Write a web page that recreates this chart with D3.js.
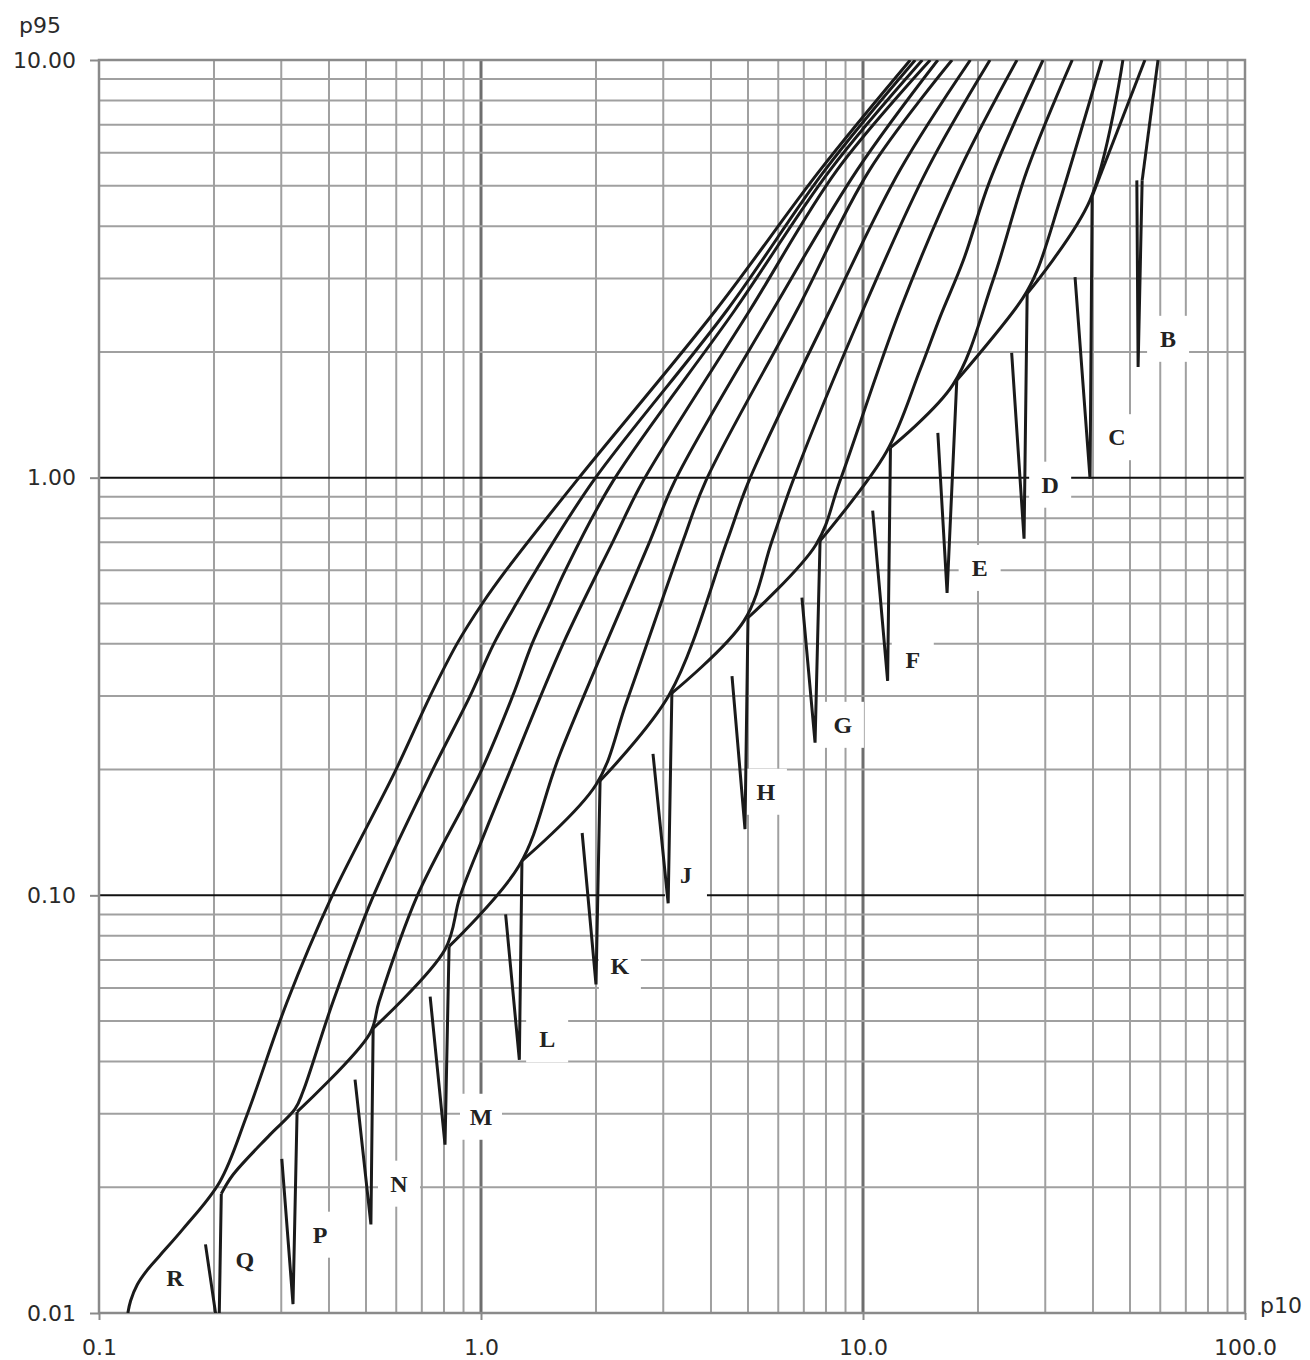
<!DOCTYPE html>
<html>
<head>
<meta charset="utf-8">
<script src="https://cdn.jsdelivr.net/npm/d3@7"></script>
<style>
body { margin: 0; background: #fff; }
</style>
</head>
<body>
<div id="chart"></div>
<script>
// curve letters and where each letter sits (p10, p95)
const letters = ["B", "C", "D", "E", "F", "G", "H", "J", "K", "L", "M", "N", "P", "Q", "R"]
const labelPos = [[62.9, 2.15], [46.2, 1.25], [30.9, 0.962], [20.2, 0.608], [13.5, 0.366], [8.86, 0.256], [5.57, 0.177],
  [3.44, 0.112], [2.31, 0.0676], [1.49, 0.0452], [1.00, 0.0295], [0.610, 0.0204], [0.379, 0.0154], [0.241, 0.0134], [0.158, 0.0121]]

// vee = top of the slanted arm, tip, top of the riser; path = from the riser top up to p95 = 10
const veeB = [[52.1, 5.15], [52.5, 1.84], [53.8, 5.15]]
const pathB = [[53.8, 5.15], [59.2, 10]]

const veeC = [[35.9, 3.02], [39.3, 0.994], [39.8, 4.72]]
const pathC = [[39.8, 4.72], [54.7, 10]]

const veeD = [[24.5, 1.99], [26.4, 0.714], [26.9, 2.76]]
const pathD = [[26.9, 2.76], [39.3, 4.62], [47.9, 10]]

const veeE = [[15.7, 1.28], [16.6, 0.530], [17.6, 1.71]]
const pathE = [[17.6, 1.71], [26.2, 2.69], [28.6, 3.14], [32.8, 4.62], [42.2, 10]]

const veeF = [[10.6, 0.834], [11.6, 0.326], [11.8, 1.18]]
const pathF = [[11.8, 1.18], [17.2, 1.67], [21.9, 2.97], [26.9, 5.45], [35.3, 10]]

const veeG = [[6.92, 0.516], [7.49, 0.232], [7.72, 0.706]]
const pathG = [[7.72, 0.706], [11.5, 1.15], [14.1, 1.81], [15.9, 2.42], [18.3, 3.31], [21.5, 5.15], [29.6, 10]]

const veeH = [[4.54, 0.335], [4.91, 0.144], [5.00, 0.462]]
const pathH = [[5.00, 0.462], [7.53, 0.691], [8.71, 0.984], [12.5, 2.52], [17.9, 5.45], [25.3, 10]]

const veeJ = [[2.82, 0.218], [3.09, 0.0957], [3.16, 0.305]]
const pathJ = [[3.16, 0.305], [4.88, 0.454], [5.78, 0.706], [6.56, 0.984], [10.0, 2.52], [14.7, 5.45], [21.5, 10]]

const veeK = [[1.84, 0.141], [2.00, 0.0612], [2.05, 0.188]]
const pathK = [[2.05, 0.188], [3.11, 0.302], [4.41, 0.706], [5.03, 0.984], [8.20, 2.52], [12.5, 5.45], [19.1, 10]]

const veeL = [[1.16, 0.0900], [1.26, 0.0404], [1.28, 0.121]]
const pathL = [[1.28, 0.121], [2.00, 0.184], [2.41, 0.292], [3.38, 0.706], [3.88, 0.984], [6.72, 2.52], [10.4, 5.45], [17.1, 10]]

const veeM = [[0.736, 0.0572], [0.805, 0.0253], [0.825, 0.0755]]
const pathM = [[0.825, 0.0755], [1.26, 0.118], [1.61, 0.218], [2.77, 0.706], [3.22, 0.984], [5.81, 2.52], [9.65, 5.45], [15.7, 10]]

const veeN = [[0.468, 0.0362], [0.515, 0.0163], [0.522, 0.0480]]
const pathN = [[0.522, 0.0480], [0.805, 0.0742], [0.881, 0.0994], [1.01, 0.137], [1.19, 0.198], [1.64, 0.400], [2.22, 0.706],
  [2.66, 0.984], [5.06, 2.52], [8.55, 5.45], [15.0, 10]]

const veeP = [[0.301, 0.0234], [0.322, 0.0105], [0.330, 0.0303]]
const pathP = [[0.330, 0.0303], [0.512, 0.0467], [0.541, 0.0557], [0.680, 0.0994], [1.00, 0.198], [1.21, 0.300], [1.36, 0.400],
  [1.52, 0.501], [1.66, 0.598], [2.22, 0.984], [4.62, 2.52], [8.20, 5.45], [14.3, 10]]

const veeQ = [[0.190, 0.0146], [0.206, 0.0088], [0.209, 0.0193]]
const pathQ = [[0.209, 0.0193], [0.224, 0.0214], [0.280, 0.0267], [0.326, 0.0308], [0.342, 0.0339], [0.410, 0.0557], [0.522, 0.0994],
  [0.744, 0.198], [0.936, 0.300], [1.08, 0.400], [1.24, 0.501], [1.39, 0.598], [1.97, 0.984], [4.41, 2.52], [7.95, 5.45], [13.7, 10]]

const pathR = [[0.119, 0.0100], [0.121, 0.0107], [0.126, 0.0117], [0.134, 0.0127], [0.144, 0.0137], [0.166, 0.0159], [0.207, 0.0206],
  [0.244, 0.0298], [0.311, 0.0557], [0.407, 0.0994], [0.596, 0.198], [0.736, 0.300], [0.865, 0.400], [1.01, 0.501], [1.16, 0.598],
  [1.78, 0.984], [4.12, 2.52], [7.72, 5.45], [13.3, 10]]

const yTicks = [0.01, 0.1, 1, 10]
const xTicks = [0.1, 1, 10, 100]

const curves = [
  {id: "B", vee: veeB, path: pathB}, {id: "C", vee: veeC, path: pathC}, {id: "D", vee: veeD, path: pathD},
  {id: "E", vee: veeE, path: pathE}, {id: "F", vee: veeF, path: pathF}, {id: "G", vee: veeG, path: pathG},
  {id: "H", vee: veeH, path: pathH}, {id: "J", vee: veeJ, path: pathJ}, {id: "K", vee: veeK, path: pathK},
  {id: "L", vee: veeL, path: pathL}, {id: "M", vee: veeM, path: pathM}, {id: "N", vee: veeN, path: pathN},
  {id: "P", vee: veeP, path: pathP}, {id: "Q", vee: veeQ, path: pathQ}, {id: "R", vee: null, path: pathR}
]

let width = 1310
let height = 1360

let x = d3.scaleLog().domain([0.1, 100]).range([99, 1245])
let y = d3.scaleLog().domain([0.01, 10]).range([1313, 60])

let svg = d3.select("#chart").append("svg")
  .attr("width", width)
  .attr("height", height)
  .style("background", "#fff")

svg.append("clipPath").attr("id", "plot-clip")
  .append("rect")
  .attr("x", x(0.1)).attr("y", y(10))
  .attr("width", x(100) - x(0.1)).attr("height", y(0.01) - y(10))

let grid = svg.append("g")
let boxes = svg.append("g")
let lines = svg.append("g").attr("clip-path", "url(#plot-clip)")
let texts = svg.append("g")

// gridlines at 1..9 of each decade
const xGrid = [0.1, 1, 10].flatMap(k => d3.range(1, 10).map(i => +(i * k).toPrecision(3)))
const yGrid = [0.01, 0.1, 1].flatMap(k => d3.range(1, 10).map(i => +(i * k).toPrecision(3)))

grid.selectAll(".vgrid")
  .data(xGrid.filter(d => d !== 0.1))
  .enter().append("line")
  .attr("x1", d => x(d)).attr("x2", d => x(d))
  .attr("y1", y(10)).attr("y2", y(0.01))
  .attr("stroke", d => (d === 1 || d === 10) ? "#6e6e6e" : "#a0a0a0")
  .attr("stroke-width", d => (d === 1 || d === 10) ? 3 : 2)

grid.selectAll(".hgrid")
  .data(yGrid.filter(d => d !== 0.01))
  .enter().append("line")
  .attr("x1", x(0.1)).attr("x2", x(100))
  .attr("y1", d => y(d)).attr("y2", d => y(d))
  .attr("stroke", d => (d === 1 || d === 0.1) ? "#111" : "#a0a0a0")
  .attr("stroke-width", 2)

grid.append("rect")
  .attr("x", x(0.1)).attr("y", y(10))
  .attr("width", x(100) - x(0.1)).attr("height", y(0.01) - y(10))
  .attr("fill", "none")
  .attr("stroke", "#8a8a8a")
  .attr("stroke-width", 2.5)

// white patches behind the letters cut the grid
boxes.selectAll("rect")
  .data(letters)
  .enter().append("rect")
  .attr("x", (d, i) => x(labelPos[i][0]) - 21)
  .attr("y", (d, i) => y(labelPos[i][1]) - 23)
  .attr("width", 42)
  .attr("height", 46)
  .attr("fill", "#fff")

const straight = d3.line().x(d => x(d[0])).y(d => y(d[1]))
const smooth = d3.line().x(d => x(d[0])).y(d => y(d[1])).curve(d3.curveCatmullRom.alpha(0.5))

curves.forEach(c => {
  if (c.vee) {
    lines.append("path")
      .datum(c.vee)
      .attr("d", straight)
      .attr("fill", "none")
      .attr("stroke", "#1a1a1a")
      .attr("stroke-width", 3)
      .attr("stroke-linejoin", "miter")
  }
  lines.append("path")
    .datum(c.path)
    .attr("d", smooth)
    .attr("fill", "none")
    .attr("stroke", "#1a1a1a")
    .attr("stroke-width", 3)
    .attr("stroke-linejoin", "round")
})

texts.selectAll("text")
  .data(letters)
  .enter().append("text")
  .attr("x", (d, i) => x(labelPos[i][0]))
  .attr("y", (d, i) => y(labelPos[i][1]))
  .attr("text-anchor", "middle")
  .attr("dominant-baseline", "central")
  .attr("font-family", "'Liberation Serif', 'DejaVu Serif', serif")
  .attr("font-weight", "bold")
  .attr("font-size", 24)
  .attr("fill", "#222")
  .text(d => d)

// axes
let yaxis = svg.append("g")
  .attr("transform", "translate(" + x(0.1) + ",0)")
  .call(d3.axisLeft(y).tickValues(yTicks).tickFormat(d3.format(".2f")).tickSize(9).tickPadding(14))

let xaxis = svg.append("g")
  .attr("transform", "translate(0," + y(0.01) + ")")
  .call(d3.axisBottom(x).tickValues(xTicks).tickFormat(d3.format(".1f")).tickSize(7).tickPadding(19))

svg.selectAll(".domain").remove()
svg.selectAll(".tick line").attr("stroke", "#8a8a8a").attr("stroke-width", 2)
svg.selectAll(".tick text")
  .attr("font-family", "'DejaVu Sans', sans-serif")
  .attr("font-size", 22)
  .attr("fill", "#2a2a2a")

svg.append("text")
  .attr("x", 40).attr("y", 25)
  .attr("text-anchor", "middle")
  .attr("dominant-baseline", "central")
  .attr("font-family", "'DejaVu Sans', sans-serif")
  .attr("font-size", 22)
  .attr("fill", "#2a2a2a")
  .text("p95")

svg.append("text")
  .attr("x", 1281).attr("y", 1305)
  .attr("text-anchor", "middle")
  .attr("dominant-baseline", "central")
  .attr("font-family", "'DejaVu Sans', sans-serif")
  .attr("font-size", 22)
  .attr("fill", "#2a2a2a")
  .text("p10")
</script>
</body>
</html>
